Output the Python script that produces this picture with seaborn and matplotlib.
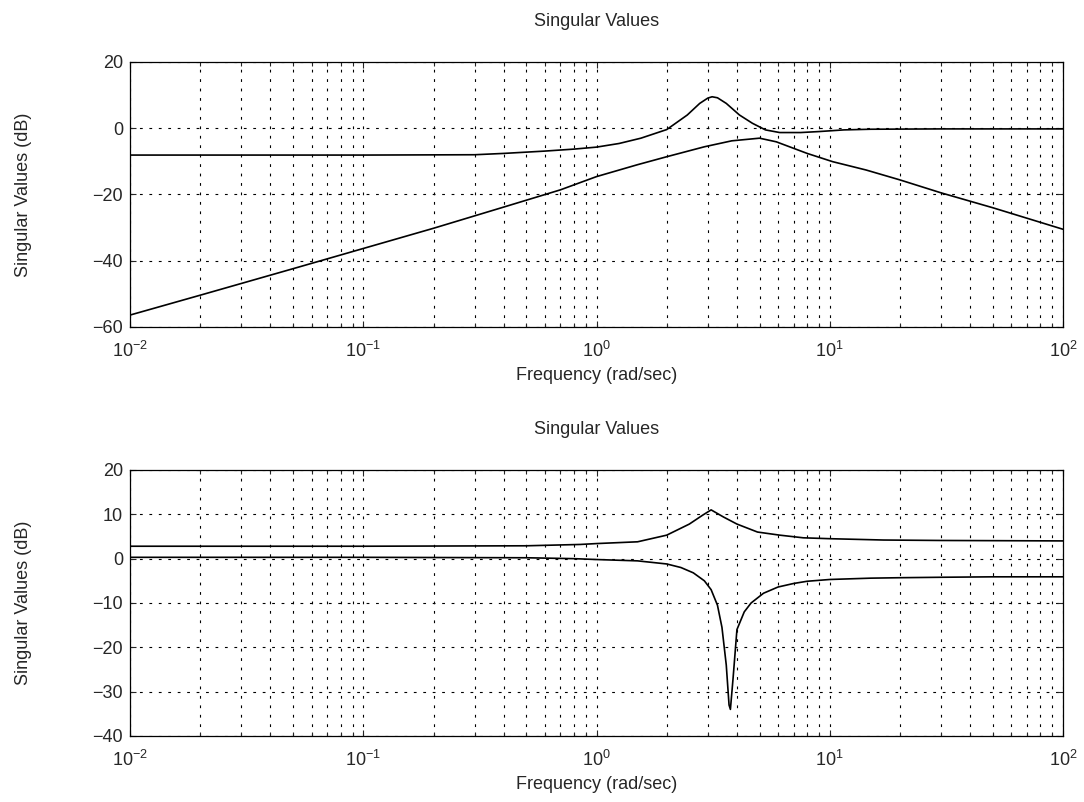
import pandas as pd
import matplotlib.pyplot as plt
import seaborn as sns

# ================= DATOS =================
# Panel superior: dos valores singulares (dB) vs frecuencia (rad/sec)
w_sup_1 = [0.01, 0.1, 0.3, 0.4, 0.6, 0.8, 1.0, 1.25, 1.55, 2.0, 2.45, 2.77, 3.0,
           3.13, 3.3, 3.6, 4.1, 4.66, 5.3, 6.1, 7.5, 9.0, 11.5, 15.0, 30.0, 100.0]
sv_sup_1 = [-8.1, -8.1, -8.0, -7.6, -6.9, -6.3, -5.7, -4.6, -3.0, -0.4, 4.0, 7.5, 9.1,
            9.5, 9.2, 7.5, 4.0, 1.5, -0.5, -1.3, -1.3, -1.0, -0.5, -0.3, -0.2, -0.2]

w_sup_2 = [0.01, 0.02, 0.05, 0.1, 0.2, 0.4, 0.7, 1.0, 1.5, 2.0, 2.9, 3.8, 5.0,
           5.9, 8.0, 10.3, 14.3, 20.0, 30.0, 50.0, 100.0]
sv_sup_2 = [-56.4, -50.4, -42.4, -36.3, -30.2, -23.8, -18.6, -14.6, -11.0, -8.6, -5.6, -3.8, -3.0,
            -4.1, -7.6, -10.1, -12.6, -15.6, -19.5, -24.0, -30.5]

# Panel inferior
w_inf_1 = [0.01, 0.1, 0.5, 0.85, 1.0, 1.5, 2.0, 2.5, 2.85, 3.1, 3.5, 4.0, 4.9,
           6.1, 7.7, 10.0, 17.0, 30.0, 100.0]
sv_inf_1 = [2.8, 2.8, 2.9, 3.2, 3.4, 3.8, 5.3, 7.8, 9.8, 11.0, 9.4, 7.8, 6.0,
            5.3, 4.7, 4.5, 4.2, 4.1, 4.0]

w_inf_2 = [0.01, 0.1, 0.5, 0.8, 1.0, 1.5, 2.0, 2.3, 2.6, 2.9, 3.1, 3.3, 3.45, 3.6,
           3.7, 3.75, 3.85, 4.0, 4.3, 4.6, 5.2, 6.0, 7.0, 8.0, 10.0, 15.0, 20.0,
           30.0, 50.0, 100.0]
sv_inf_2 = [0.3, 0.3, 0.2, 0.0, -0.2, -0.5, -1.2, -2.0, -3.2, -5.0, -7.0, -10.5, -15.5, -24.0,
            -33.0, -34.0, -27.0, -16.0, -12.0, -10.0, -7.8, -6.4, -5.6, -5.1, -4.7, -4.4, -4.3,
            -4.2, -4.1, -4.1]

titulo = 'Singular Values'
etiqueta_x = 'Frequency (rad/sec)'
etiqueta_y = 'Singular Values (dB)'

# ================= ESTILO =================
sns.set_style("ticks")
plt.rcParams['font.family'] = ['Liberation Sans', 'DejaVu Sans']
plt.rcParams['font.size'] = 13
plt.rcParams['xtick.direction'] = 'in'
plt.rcParams['ytick.direction'] = 'in'

def armar_df(w, sv, nombre):
    return pd.DataFrame({'w': w, 'sv': sv, 'serie': nombre})

paneles = [
    (pd.concat([armar_df(w_sup_1, sv_sup_1, 'a'), armar_df(w_sup_2, sv_sup_2, 'b')]),
     (-60, 20), list(range(-60, 21, 20))),
    (pd.concat([armar_df(w_inf_1, sv_inf_1, 'a'), armar_df(w_inf_2, sv_inf_2, 'b')]),
     (-40, 20), list(range(-40, 21, 10))),
]

fig = plt.figure(figsize=(10.84, 8.02), dpi=100)
posiciones = [[0.12, 0.5923, 0.8606, 0.3304], [0.12, 0.0823, 0.8606, 0.3317]]

for (df, ylim, yticks), pos in zip(paneles, posiciones):
    ax = fig.add_axes(pos)
    sns.lineplot(data=df, x='w', y='sv', units='serie', estimator=None,
                 color='black', linewidth=1.2, sort=False, ax=ax, legend=False)
    ax.set_xscale('log')
    ax.set_xlim(0.01, 100)
    ax.set_ylim(*ylim)
    ax.set_yticks(yticks)

    # grilla punteada estilo MATLAB
    ax.grid(True, which='major', color='black', linestyle=(0, (2.5, 6)), linewidth=0.8)
    ax.grid(True, which='minor', axis='x', color='black', linestyle=(0, (2.5, 6)), linewidth=0.8)

    ax.tick_params(which='both', top=True, right=True, labelsize=13, width=0.8)
    ax.tick_params(which='major', length=4)
    ax.tick_params(which='minor', length=3)
    ax.tick_params(axis='x', which='both', pad=10)
    ax.tick_params(axis='y', which='both', pad=5)
    for s in ax.spines.values():
        s.set_linewidth(0.9)
        s.set_color('black')

    ax.set_title(titulo, fontsize=13, pad=26)
    ax.set_xlabel(etiqueta_x, fontsize=13, labelpad=4)
    ax.set_ylabel(etiqueta_y, fontsize=13)
    ax.yaxis.set_label_coords(-0.105, 0.5)

fig.savefig('out.png', dpi=100)
